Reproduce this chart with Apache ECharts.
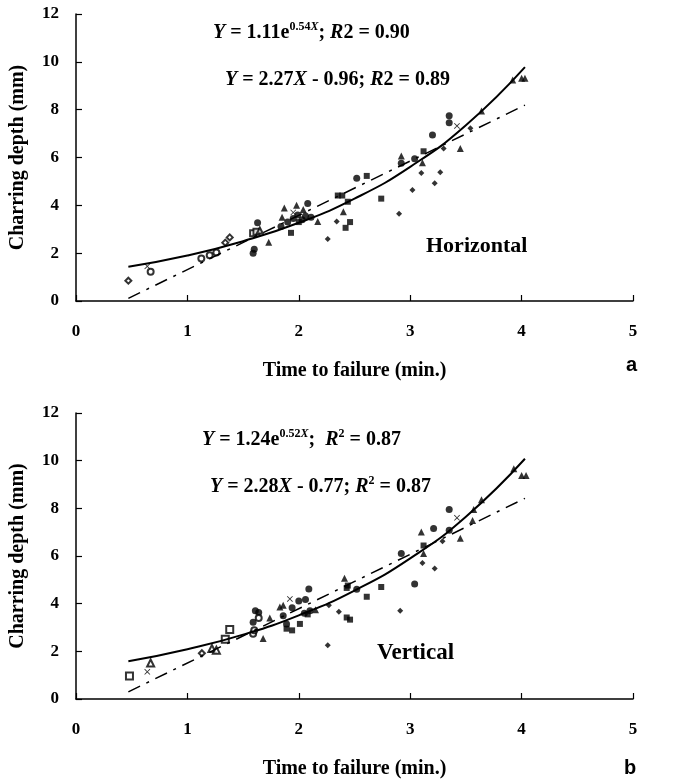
<!DOCTYPE html>
<html>
<head>
<meta charset="utf-8">
<title>Charring depth vs time to failure</title>
<script src="https://cdn.jsdelivr.net/npm/echarts@6/dist/echarts.min.js"></script>
<style>
  html, body { margin: 0; padding: 0; background: #fff; }
  #chart { width: 674px; height: 780px; }
</style>
</head>
<body>
<div id="chart"></div>
<script>
// ---- data: [time to failure (min), charring depth (mm)] ----
// panel a: horizontal
const hCircle = [[1.59, 2.0], [1.60, 2.16], [1.63, 3.27], [1.84, 3.12], [1.9, 3.3], [1.95, 3.45], [1.99, 3.6], [2.03, 3.4], [2.06, 3.55], [2.08, 4.08], [2.11, 3.5], [2.52, 5.13], [2.92, 5.76], [3.04, 5.95], [3.20, 6.94], [3.35, 7.75], [3.35, 7.45]]
const hSquare = [[1.93, 2.85], [2.0, 3.3], [2.35, 4.41], [2.39, 4.41], [2.42, 3.06], [2.46, 3.3], [2.44, 4.15], [2.61, 5.23], [2.74, 4.28], [3.12, 6.26]]
const hTriangle = [[1.73, 2.46], [1.85, 3.5], [1.87, 3.89], [1.98, 4.0], [2.04, 3.83], [2.17, 3.32], [2.40, 3.73], [2.92, 6.06], [3.11, 5.78], [3.45, 6.38], [3.64, 7.94], [3.92, 9.24], [4.0, 9.31], [4.03, 9.31]]
const hDiamond = [[2.26, 2.59], [2.34, 3.32], [2.90, 3.65], [3.02, 4.64], [3.10, 5.35], [3.22, 4.92], [3.27, 5.38], [3.30, 6.38], [3.54, 7.22]]
const hOpenCircle = [[0.67, 1.22], [1.125, 1.78], [1.2, 1.91], [1.26, 2.03]]
const hOpenDiamond = [[0.47, 0.85], [1.34, 2.44], [1.38, 2.66]]
const hOpenSquare = [[1.59, 2.83], [1.62, 2.9]]
const hOpenTriangle = [[1.65, 2.95]]
const hStar = [[0.64, 1.45], [1.95, 3.7], [3.42, 7.32]]
// fitted curves as drawn
const hExpFit = [[0.47, 1.43], [1.0, 1.9], [1.5, 2.5], [2.0, 3.27], [2.5, 4.28], [3.0, 5.61], [3.5, 7.35], [4.03, 9.78]]
const hLinFit = [[0.47, 0.11], [4.03, 8.19]]

// panel b: vertical
const vCircle = [[1.59, 3.22], [1.61, 3.70], [1.64, 3.63], [1.86, 3.49], [1.89, 3.15], [1.94, 3.83], [2.0, 4.11], [2.06, 4.18], [2.09, 4.62], [2.05, 3.6], [2.1, 3.7], [2.52, 4.60], [2.92, 6.10], [3.04, 4.82], [3.21, 7.15], [3.35, 7.95], [3.35, 7.08]]
const vSquare = [[1.89, 2.95], [1.94, 2.88], [2.01, 3.15], [2.08, 3.55], [2.43, 4.66], [2.44, 4.76], [2.43, 3.42], [2.46, 3.33], [2.61, 4.29], [2.74, 4.70], [3.12, 6.44]]
const vTriangle = [[1.68, 2.54], [1.74, 3.40], [1.83, 3.86], [1.86, 3.93], [2.15, 3.75], [2.41, 5.07], [3.10, 7.01], [3.12, 6.10], [3.45, 6.75], [3.56, 7.49], [3.57, 7.95], [3.64, 8.36], [3.93, 9.66], [4.0, 9.38], [4.04, 9.38]]
const vDiamond = [[2.26, 2.26], [2.27, 3.93], [2.36, 3.66], [2.91, 3.70], [3.11, 5.71], [3.22, 5.48], [3.29, 6.62]]
const vOpenCircle = [[1.59, 2.74], [1.60, 2.88], [1.64, 3.40]]
const vOpenSquare = [[0.48, 0.96], [1.34, 2.51], [1.38, 2.92]]
const vOpenTriangle = [[0.67, 1.51], [1.22, 2.12], [1.26, 2.05]]
const vOpenDiamond = [[1.13, 1.92]]
const vStar = [[0.64, 1.14], [1.92, 4.20], [3.42, 7.60]]
const vExpFit = [[0.47, 1.58], [1.0, 2.09], [1.5, 2.7], [2.0, 3.51], [2.5, 4.55], [3.0, 5.9], [3.5, 7.65], [4.03, 10.08]]
const vLinFit = [[0.47, 0.30], [4.03, 8.42]]

const xTicks = [0, 5, 1]   // min, max, interval
const yTicks = [0, 12, 2]

const SERIF = 'Liberation Serif'
const STAR = 'path://M0,1L1,0L5,4L9,0L10,1L6,5L10,9L9,10L5,6L1,10L0,9L4,5Z'

const chart = echarts.init(document.getElementById('chart'))

function xAxisConf (gridIndex) {
  return {
    gridIndex: gridIndex,
    type: 'value',
    min: xTicks[0],
    max: xTicks[1],
    interval: xTicks[2],
    name: 'Time to failure (min.)',
    nameLocation: 'middle',
    nameGap: 60,
    nameTextStyle: { fontFamily: SERIF, fontWeight: 'bold', fontSize: 20, color: '#000' },
    axisLine: { onZero: false, lineStyle: { color: '#000', width: 1.5 } },
    axisTick: { inside: true, length: 6, lineStyle: { color: '#000', width: 1.2 } },
    axisLabel: { margin: 22, fontFamily: SERIF, fontWeight: 'bold', fontSize: 17, color: '#000' },
    splitLine: { show: false }
  }
}

function yAxisConf (gridIndex) {
  return {
    gridIndex: gridIndex,
    type: 'value',
    min: yTicks[0],
    max: yTicks[1],
    interval: yTicks[2],
    name: 'Charring depth (mm)',
    nameLocation: 'middle',
    nameGap: 48,
    nameRotate: 90,
    nameTextStyle: { fontFamily: SERIF, fontWeight: 'bold', fontSize: 20, color: '#000' },
    axisLine: { show: true, onZero: false, lineStyle: { color: '#000', width: 1.5 } },
    axisTick: { show: true, inside: true, length: 6, lineStyle: { color: '#000', width: 1.2 } },
    axisLabel: { margin: 17, fontFamily: SERIF, fontWeight: 'bold', fontSize: 17, color: '#000' },
    splitLine: { show: false }
  }
}

function scatter (data, symbol, size, idx) {
  return {
    type: 'scatter',
    xAxisIndex: idx,
    yAxisIndex: idx,
    data: data,
    symbol: symbol,
    symbolSize: size,
    itemStyle: { color: '#000', borderColor: '#000', borderWidth: symbol.indexOf('empty') === 0 ? 1 : 0 },
    z: 3
  }
}

function fitLine (data, dashed, idx) {
  return {
    type: 'line',
    xAxisIndex: idx,
    yAxisIndex: idx,
    data: data,
    smooth: !dashed,
    showSymbol: false,
    lineStyle: dashed
      ? { color: '#000', width: 1.5, type: [13, 7, 3, 7] }
      : { color: '#000', width: 2 },
    z: 4
  }
}

function eqText (x, y, text) {
  return {
    type: 'text',
    x: x,
    y: y,
    style: {
      text: text,
      fontFamily: SERIF,
      fontWeight: 'bold',
      fontSize: 20,
      fill: '#000',
      verticalAlign: 'middle',
      rich: {
        i: { fontFamily: SERIF, fontWeight: 'bold', fontStyle: 'italic', fontSize: 20, lineHeight: 24 },
        n: { fontFamily: SERIF, fontWeight: 'bold', fontSize: 20, lineHeight: 24 },
        sup: { fontFamily: SERIF, fontWeight: 'bold', fontSize: 12, lineHeight: 12, verticalAlign: 'top' },
        supi: { fontFamily: SERIF, fontWeight: 'bold', fontStyle: 'italic', fontSize: 12, lineHeight: 12, verticalAlign: 'top' }
      }
    }
  }
}

chart.setOption({
  animation: false,
  grid: [
    { left: 74, top: 14, width: 559, height: 287 },
    { left: 76, top: 413, width: 557, height: 292 }
  ],
  xAxis: [xAxisConf(0), xAxisConf(1)],
  yAxis: [yAxisConf(0), yAxisConf(1)],
  series: [
    fitLine(hExpFit, false, 0),
    fitLine(hLinFit, true, 0),
    scatter(hCircle, 'circle', 7, 0),
    scatter(hSquare, 'rect', 6, 0),
    scatter(hTriangle, 'triangle', 7, 0),
    scatter(hDiamond, 'diamond', 6, 0),
    scatter(hOpenCircle, 'emptyCircle', 6, 0),
    scatter(hOpenDiamond, 'emptyDiamond', 6, 0),
    scatter(hOpenSquare, 'emptyRect', 6, 0),
    scatter(hOpenTriangle, 'emptyTriangle', 6, 0),
    scatter(hStar, STAR, 6, 0),

    fitLine(vExpFit, false, 1),
    fitLine(vLinFit, true, 1),
    scatter(vCircle, 'circle', 7, 1),
    scatter(vSquare, 'rect', 6, 1),
    scatter(vTriangle, 'triangle', 7, 1),
    scatter(vDiamond, 'diamond', 6, 1),
    scatter(vOpenCircle, 'emptyCircle', 6, 1),
    scatter(vOpenSquare, 'emptyRect', 7, 1),
    scatter(vOpenTriangle, 'emptyTriangle', 7, 1),
    scatter(vOpenDiamond, 'emptyDiamond', 6, 1),
    scatter(vStar, STAR, 6, 1)
  ],
  graphic: [
    eqText(213, 33, '{i|Y}{n| = 1.11e}{sup|0.54}{supi|X}{n|; }{i|R}{n|2 = 0.90}'),
    eqText(225, 80, '{i|Y}{n| = 2.27}{i|X}{n| - 0.96; }{i|R}{n|2 = 0.89}'),
    eqText(202, 440, '{i|Y}{n| = 1.24e}{sup|0.52}{supi|X}{n|;  }{i|R}{sup|2}{n| = 0.87}'),
    eqText(210, 487, '{i|Y}{n| = 2.28}{i|X}{n| - 0.77; }{i|R}{sup|2}{n| = 0.87}'),
    {
      type: 'text', x: 426, y: 246,
      style: { text: 'Horizontal', fontFamily: SERIF, fontWeight: 'bold', fontSize: 22, fill: '#000', verticalAlign: 'middle' }
    },
    {
      type: 'text', x: 377, y: 653,
      style: { text: 'Vertical', fontFamily: SERIF, fontWeight: 'bold', fontSize: 23, fill: '#000', verticalAlign: 'middle' }
    },
    {
      type: 'text', x: 626, y: 365,
      style: { text: 'a', fontFamily: 'Liberation Sans', fontWeight: 'bold', fontSize: 20, fill: '#000', verticalAlign: 'middle' }
    },
    {
      type: 'text', x: 624, y: 768,
      style: { text: 'b', fontFamily: 'Liberation Sans', fontWeight: 'bold', fontSize: 20, fill: '#000', verticalAlign: 'middle' }
    }
  ]
})
</script>
</body>
</html>
